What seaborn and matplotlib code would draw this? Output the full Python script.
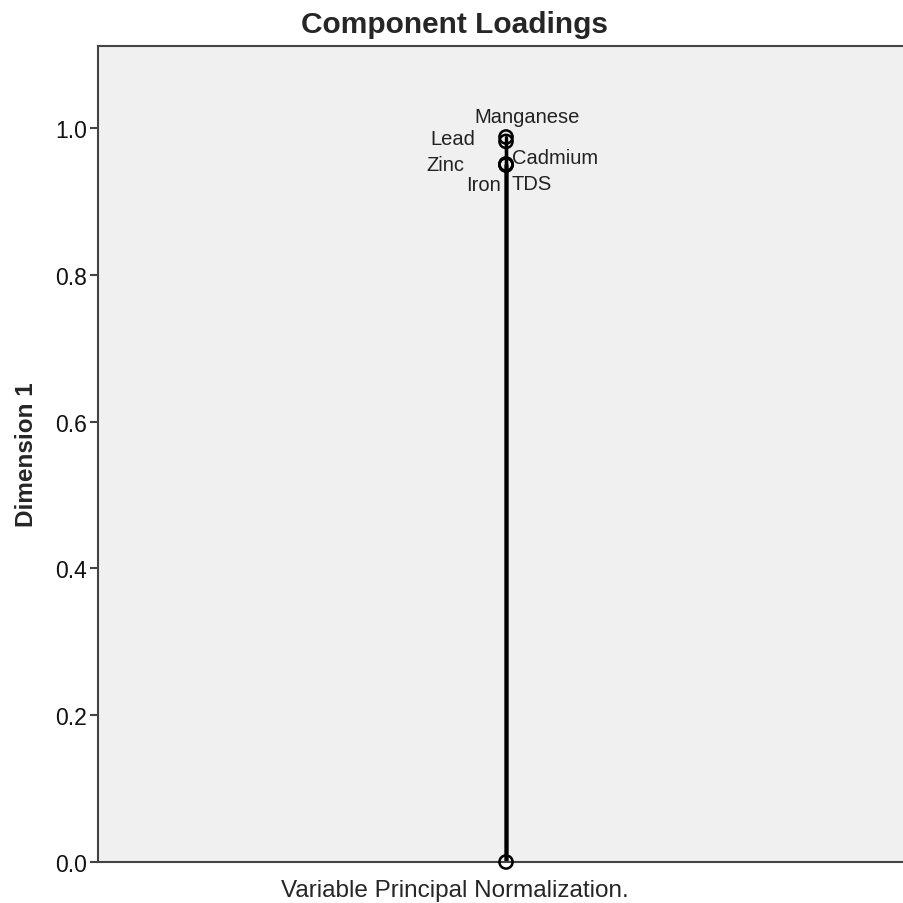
import matplotlib
matplotlib.use('Agg')
import matplotlib.pyplot as plt
import seaborn as sns
import pandas as pd

# loadings on the single dimension
variables = ['Manganese', 'Lead', 'Cadmium', 'Zinc', 'Iron', 'TDS']
dim1 = [0.988, 0.982, 0.951, 0.950, 0.950, 0.951]
dim0 = [0.0, 0.0, 0.0, 0.0, 0.0, 0.0]

# label offsets in points (dx, dy) and alignment
label_pos = {
    'Manganese': (15, 15, 'center'),
    'Lead': (-22, 2, 'right'),
    'Cadmium': (4, 5, 'left'),
    'Zinc': (-30, 0, 'right'),
    'Iron': (-4, -14, 'right'),
    'TDS': (4, -14, 'left'),
}

df = pd.DataFrame({'variable': variables, 'x': dim0, 'y': dim1})

sns.set_style('white')
plt.rcParams['font.family'] = ['Liberation Sans', 'DejaVu Sans']

fig = plt.figure(figsize=(9.04, 9.04), dpi=100)
# axes runs past the right edge of the picture, like the cropped original
ax = fig.add_axes([98 / 904, 41 / 904, 816 / 904, 816 / 904])
ax.set_facecolor('#f0f0f0')

# lines from origin to each loading
for _, r in df.iterrows():
    ax.plot([0, r['x']], [0, r['y']], color='black', lw=2.4, zorder=2)

sns.scatterplot(data=df, x='x', y='y', ax=ax, s=90, marker='o',
                facecolor='none', edgecolor='black', linewidth=1.8, zorder=3)
ax.scatter([0], [0], s=90, facecolor='none', edgecolor='black',
           linewidth=1.8, zorder=3, clip_on=False)

for _, r in df.iterrows():
    dx, dy, ha = label_pos[r['variable']]
    ax.annotate(r['variable'], (r['x'], r['y']), xytext=(dx, dy),
                textcoords='offset points', ha=ha, va='center',
                fontsize=14.5, color='#222222')

ax.set_xlim(-1, 1)
ax.set_ylim(0, 1.112)
ax.set_xticks([])
ax.set_yticks([0.0, 0.2, 0.4, 0.6, 0.8, 1.0])
ax.set_yticklabels(['0.0', '0.2', '0.4', '0.6', '0.8', '1.0'])
ax.tick_params(axis='y', length=6, width=1.5, color='#444444',
               labelsize=16.5, pad=2, left=True, labelcolor='#111111')

for side in ['left', 'top', 'bottom', 'right']:
    ax.spines[side].set_color('#444444')
    ax.spines[side].set_linewidth(1.5)

ax.set_ylabel('Dimension 1', fontsize=17.5, fontweight='bold', labelpad=12)
ax.set_xlabel('Variable Principal Normalization.', fontsize=17.5, labelpad=12)
ax.xaxis.label.set_x(357 / 816)
ax.set_title('Component Loadings', fontsize=21.5, fontweight='bold',
             pad=10, x=357 / 816)

fig.savefig('out.png', dpi=100)
